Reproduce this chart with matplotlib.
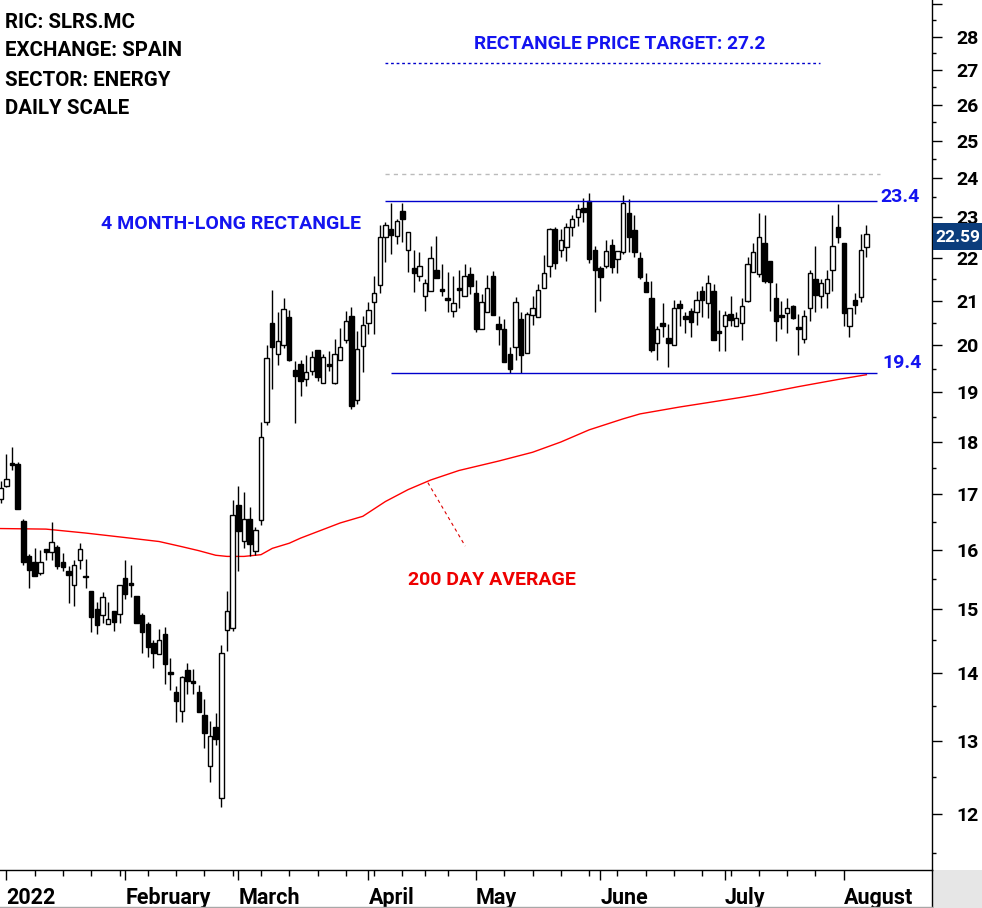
import matplotlib
matplotlib.use("Agg")
import matplotlib.pyplot as plt
import numpy as np
import pandas as pd
from matplotlib.lines import Line2D
from matplotlib.patches import Rectangle
from matplotlib.ticker import FixedLocator, FixedFormatter, NullFormatter

plt.rcParams['font.family'] = ['Roboto', 'DejaVu Sans']

# ---------------- data ----------------
holidays = pd.to_datetime(['2022-04-15', '2022-04-18'])
bdays = pd.bdate_range('2022-01-03', '2022-08-05')
bdays = bdays[~bdays.isin(holidays)]
dates = pd.DatetimeIndex([pd.Timestamp('2021-12-31')]).append(bdays)

opens = [16.92, 17.15, 17.60, 17.58, 16.51, 15.90, 15.80, 15.61, 16.02, 15.97,
         16.05, 15.80, 15.64, 15.41, 15.83, 15.56, 15.30, 15.00, 14.90, 14.76,
         14.98, 14.93, 15.52, 15.43, 15.22, 14.91, 14.76, 14.46, 14.28, 14.60,
         14.00, 13.71, 13.43, 14.04, 13.88, 13.70, 13.37, 12.64, 13.20, 12.21,
         14.67, 14.70, 16.81, 16.16, 16.56, 15.98, 16.53, 18.40, 20.50, 19.81,
         20.00, 20.62, 19.46, 19.60, 19.28, 19.45, 19.89, 19.20, 19.57, 19.20,
         19.69, 20.11, 20.66, 18.85, 19.99, 20.50, 20.97, 21.36, 22.50, 22.71,
         22.53, 23.16, 22.18, 21.75, 21.58, 21.10, 21.21, 21.70, 21.25, 21.04,
         20.77, 21.27, 21.11, 21.61, 21.17, 20.35, 20.74, 21.56, 20.47, 20.35,
         19.81, 19.96, 20.58, 19.84, 20.67, 20.63, 21.29, 21.80, 22.71, 22.20,
         22.26, 22.75, 23.00, 23.23, 23.40, 22.20, 21.75, 21.80, 22.31, 21.98,
         22.15, 23.10, 22.69, 21.99, 21.44, 21.07, 20.06, 20.50, 20.16, 20.00,
         20.92, 20.66, 20.76, 20.74, 21.21, 20.94, 21.21, 20.29, 20.42, 20.69,
         20.43, 20.50, 21.00, 21.67, 21.61, 22.36, 21.93, 21.07, 20.65, 20.71,
         20.87, 20.38, 20.14, 20.82, 21.51, 21.10, 21.17, 21.71, 22.75, 22.36,
         20.42, 21.01, 21.09, 22.26]
highs = [17.25, 17.76, 17.90, 17.62, 16.55, 15.94, 16.03, 16.00, 16.02, 16.49,
         16.09, 15.95, 15.72, 15.82, 16.12, 15.85, 15.30, 15.12, 15.28, 15.12,
         14.98, 15.41, 15.83, 15.75, 15.22, 14.94, 14.80, 14.51, 14.68, 14.71,
         14.23, 13.79, 13.95, 14.14, 14.05, 13.81, 13.60, 13.28, 13.39, 14.43,
         15.30, 16.89, 17.16, 17.05, 16.77, 16.41, 18.40, 20.01, 21.25, 20.75,
         21.06, 20.78, 19.67, 19.69, 19.80, 19.87, 19.89, 19.82, 19.88, 20.14,
         20.39, 20.76, 20.85, 20.31, 20.65, 20.96, 21.56, 22.81, 22.87, 23.36,
         22.95, 23.36, 22.63, 22.18, 22.15, 21.49, 22.28, 22.54, 21.85, 21.67,
         21.57, 21.70, 21.85, 21.79, 21.48, 21.14, 21.59, 21.68, 20.65, 20.58,
         19.97, 21.09, 20.73, 20.74, 21.10, 21.38, 22.07, 22.74, 22.75, 22.70,
         22.85, 23.06, 23.34, 23.49, 23.60, 22.28, 21.80, 22.44, 22.46, 22.17,
         23.57, 23.47, 23.06, 22.15, 21.65, 21.46, 20.43, 20.94, 20.48, 21.02,
         21.02, 20.74, 20.83, 21.23, 21.33, 21.59, 21.38, 20.78, 20.77, 21.10,
         20.73, 21.06, 22.03, 22.36, 23.10, 23.06, 21.93, 21.40, 20.98, 21.07,
         20.89, 20.70, 20.79, 21.72, 22.28, 21.51, 21.70, 23.06, 23.34, 22.36,
         20.82, 21.17, 22.59, 22.80]
lows = [16.85, 17.14, 17.46, 16.74, 15.75, 15.35, 15.55, 15.57, 15.82, 15.82,
        15.68, 15.64, 15.11, 15.06, 15.68, 15.35, 14.63, 14.60, 14.78, 14.76,
        14.65, 14.78, 15.17, 15.21, 14.78, 14.30, 14.24, 14.07, 14.28, 13.82,
        13.74, 13.27, 13.27, 13.68, 13.68, 13.41, 12.90, 12.43, 12.94, 12.09,
        14.33, 14.65, 15.64, 16.04, 15.90, 15.92, 16.45, 18.33, 19.08, 19.57,
        19.94, 19.66, 18.38, 18.92, 19.13, 19.36, 19.23, 19.20, 19.44, 19.18,
        19.69, 20.05, 18.65, 18.76, 19.42, 20.24, 20.25, 21.17, 21.91, 22.10,
        22.33, 22.39, 21.66, 21.20, 21.45, 20.77, 21.21, 21.53, 21.11, 20.75,
        20.62, 20.84, 21.11, 21.15, 20.29, 20.35, 20.74, 20.68, 20.01, 19.64,
        19.41, 19.69, 19.41, 19.83, 20.44, 20.63, 21.29, 21.54, 21.73, 22.02,
        21.93, 22.52, 22.78, 22.89, 21.87, 20.74, 21.00, 21.75, 21.65, 21.65,
        22.10, 22.15, 22.03, 21.49, 21.19, 19.86, 19.68, 20.19, 19.54, 20.00,
        20.42, 20.26, 20.19, 20.45, 20.62, 20.60, 20.11, 19.87, 19.87, 20.43,
        20.43, 20.12, 20.97, 21.67, 21.54, 21.40, 20.77, 20.10, 20.35, 20.28,
        20.58, 19.78, 20.06, 20.54, 20.74, 20.84, 20.84, 21.23, 22.36, 20.43,
        20.19, 20.70, 20.97, 22.01]
closes = [17.12, 17.29, 17.56, 16.74, 15.79, 15.66, 15.55, 15.80, 15.96, 16.14,
          15.72, 15.70, 15.57, 15.74, 16.02, 15.53, 14.87, 14.74, 15.20, 14.85,
          14.79, 15.41, 15.25, 15.41, 14.78, 14.64, 14.40, 14.30, 14.51, 14.13,
          13.98, 13.58, 13.93, 13.87, 13.84, 13.41, 13.11, 13.07, 13.02, 14.30,
          14.98, 16.63, 16.33, 16.56, 16.10, 16.36, 18.10, 19.73, 19.97, 20.09,
          20.80, 19.68, 19.34, 19.24, 19.43, 19.75, 19.32, 19.75, 19.55, 19.82,
          19.96, 20.53, 18.72, 19.91, 20.44, 20.78, 21.17, 22.50, 22.81, 22.55,
          22.91, 22.95, 22.63, 21.65, 21.81, 21.40, 21.99, 21.53, 21.23, 21.02,
          20.94, 21.25, 21.56, 21.34, 20.35, 20.96, 21.29, 20.68, 20.37, 19.64,
          19.50, 20.96, 19.78, 20.69, 20.84, 21.24, 21.65, 22.70, 21.87, 22.44,
          22.75, 22.95, 23.21, 23.13, 21.97, 21.71, 21.55, 22.17, 21.78, 22.17,
          23.36, 22.51, 22.15, 21.55, 21.19, 19.89, 20.37, 20.43, 20.06, 20.84,
          20.83, 20.58, 20.52, 21.01, 21.02, 21.40, 20.11, 20.27, 20.68, 20.57,
          20.60, 20.88, 21.85, 22.14, 22.51, 21.45, 21.42, 20.54, 20.63, 20.84,
          20.60, 20.36, 20.64, 21.65, 21.13, 21.40, 21.51, 22.29, 22.51, 20.71,
          20.82, 20.90, 22.20, 22.59]

# 200-day moving average (read at selected bars)
ma_bars = [0, 8, 15, 22, 28, 32, 35, 38, 40, 43, 46, 48, 51, 53, 60, 64, 68,
           72, 76, 81, 88, 94, 99, 104, 110, 113, 120, 125, 131, 134, 141,
           148, 153]
ma_values = [16.38, 16.37, 16.30, 16.22, 16.15, 16.06, 15.99, 15.91, 15.89,
             15.89, 15.92, 16.03, 16.12, 16.21, 16.48, 16.60, 16.87, 17.09,
             17.27, 17.45, 17.63, 17.80, 18.00, 18.24, 18.46, 18.56, 18.70,
             18.79, 18.90, 18.96, 19.12, 19.27, 19.37]

rect_top = 23.4
rect_bottom = 19.4
price_target = 27.2
gray_level = 24.1
last_price = 22.59

y_major = list(range(12, 30))
y_labels = [str(v) if v <= 28 else '' for v in y_major]
y_minor = [v + 0.5 for v in range(11, 29)]
month_labels = ['2022', 'February', 'March', 'April', 'May', 'June', 'July', 'August']

# ---------------- figure ----------------
W, H = 982, 908
fig = plt.figure(figsize=(W / 100, H / 100), dpi=100)
BOT = 38
ax = fig.add_axes([0, BOT / H, 932 / W, (H - BOT) / H])
ax.set_yscale('log')

n = len(opens)
x = np.arange(n)
o = np.array(opens); h = np.array(highs); l = np.array(lows); c = np.array(closes)

# moving average
ax.plot(ma_bars, ma_values, color='#ff0000', lw=1.0, zorder=2)

# candles
ax.vlines(x, l, h, color='black', lw=1.0, zorder=3)
bot = np.minimum(o, c)
top = np.maximum(np.maximum(o, c), bot * 1.002)
colors = np.where(c >= o, 'white', 'black')
ax.bar(x, top - bot, bottom=bot, width=0.78, color=colors, edgecolor='black',
       linewidth=1.0, zorder=4)

# rectangle lines
ax.hlines(rect_top, 67.9, 154.9, color='#0000cc', lw=1.0, zorder=5)
ax.hlines(rect_bottom, 68.9, 154.9, color='#0000cc', lw=1.0, zorder=5)
ax.hlines(price_target, 67.9, 144.8, color='#0000cc', lw=1.0, ls=(0, (2, 2)), zorder=5)
ax.hlines(gray_level, 67.9, 155.4, color='#bbbbbb', lw=1.0, ls=(0, (3, 3)), zorder=1)
ax.plot([75.5, 82.1], [17.22, 16.07], color='#dd0000', lw=0.8, ls=(0, (3, 3)), zorder=5)

# axes limits
ax.set_xlim(-0.124, 164.6)
ax.set_ylim(11.29, 29.14)

# y axis on right
ax.yaxis.tick_right()
ax.yaxis.set_major_locator(FixedLocator(y_major))
ax.yaxis.set_major_formatter(FixedFormatter(y_labels))
ax.yaxis.set_minor_locator(FixedLocator(y_minor))
ax.yaxis.set_minor_formatter(NullFormatter())
ax.tick_params(axis='y', which='major', direction='out', length=7.2, width=1.0,
               pad=10.5, labelsize=14)
ax.tick_params(axis='y', which='minor', direction='out', length=3, width=1.0)
for lab in ax.get_yticklabels():
    lab.set_fontweight('bold')

# x axis
month_idx = []
prev = None
for i, d in enumerate(dates):
    if i > 0 and d.month != prev:
        month_idx.append(i)
    prev = d.month
week_idx = [i for i, d in enumerate(dates)
            if i > 0 and d.weekday() < dates[i - 1].weekday() and i not in month_idx]
ax.xaxis.set_major_locator(FixedLocator(month_idx))
ax.xaxis.set_major_formatter(FixedFormatter(month_labels))
ax.xaxis.set_minor_locator(FixedLocator(week_idx))
ax.tick_params(axis='x', which='major', direction='out', length=7, width=1.0,
               pad=5, labelsize=15.5)
ax.tick_params(axis='x', which='minor', direction='out', length=4.5, width=1.0)
for lab in ax.get_xticklabels():
    lab.set_ha('left')
    lab.set_fontweight('bold')

for s in ['left', 'top']:
    ax.spines[s].set_visible(False)
ax.spines['right'].set_linewidth(1.0)
ax.spines['bottom'].set_linewidth(1.0)

# figure decorations
fig.add_artist(Line2D([932 / W, 932 / W], [0, BOT / H], transform=fig.transFigure,
                      color='black', lw=1.0))
fig.add_artist(Rectangle((932.5 / W, 0), 50 / W, BOT / H, transform=fig.transFigure,
                         facecolor='#e6e6e6', edgecolor='none', zorder=0))
fig.add_artist(Line2D([0, 932 / W], [1.5 / H, 1.5 / H], transform=fig.transFigure,
                      color='#a8a8a8', lw=1.0))

def fy(py):
    return 1 - py / H

# last price box
fig.add_artist(Rectangle((933 / W, fy(250)), 49 / W, 27 / H, transform=fig.transFigure,
                         facecolor='#0b3d7c', edgecolor='none', zorder=5))
fig.text(935 / W, fy(237), f'{last_price:.2f}', color='white', fontsize=12.5,
         fontweight='bold', va='center', ha='left', zorder=6)

# header text
for k, t in enumerate(['RIC: SLRS.MC', 'EXCHANGE: SPAIN', 'SECTOR: ENERGY', 'DAILY SCALE']):
    fig.text(5 / W, fy(22 + 29 * k), t, fontsize=14.8, fontweight='bold', color='black',
             va='center', ha='left')

blue = '#1414f0'
fig.text(101 / W, fy(224), '4 MONTH-LONG RECTANGLE', fontsize=14, fontweight='bold',
         color=blue, va='center', ha='left')
fig.text(620 / W, fy(44), f'RECTANGLE PRICE TARGET: {price_target}', fontsize=13.8,
         fontweight='bold', color=blue, va='center', ha='center')
fig.text(880 / W, fy(197), f'{rect_top}', fontsize=14, fontweight='bold', color=blue,
         va='center', ha='left')
fig.text(882 / W, fy(363), f'{rect_bottom}', fontsize=14, fontweight='bold', color=blue,
         va='center', ha='left')
fig.text(408 / W, fy(580), '200 DAY AVERAGE', fontsize=14, fontweight='bold',
         color='#ee0000', va='center', ha='left')

fig.savefig('out.png', dpi=100)
